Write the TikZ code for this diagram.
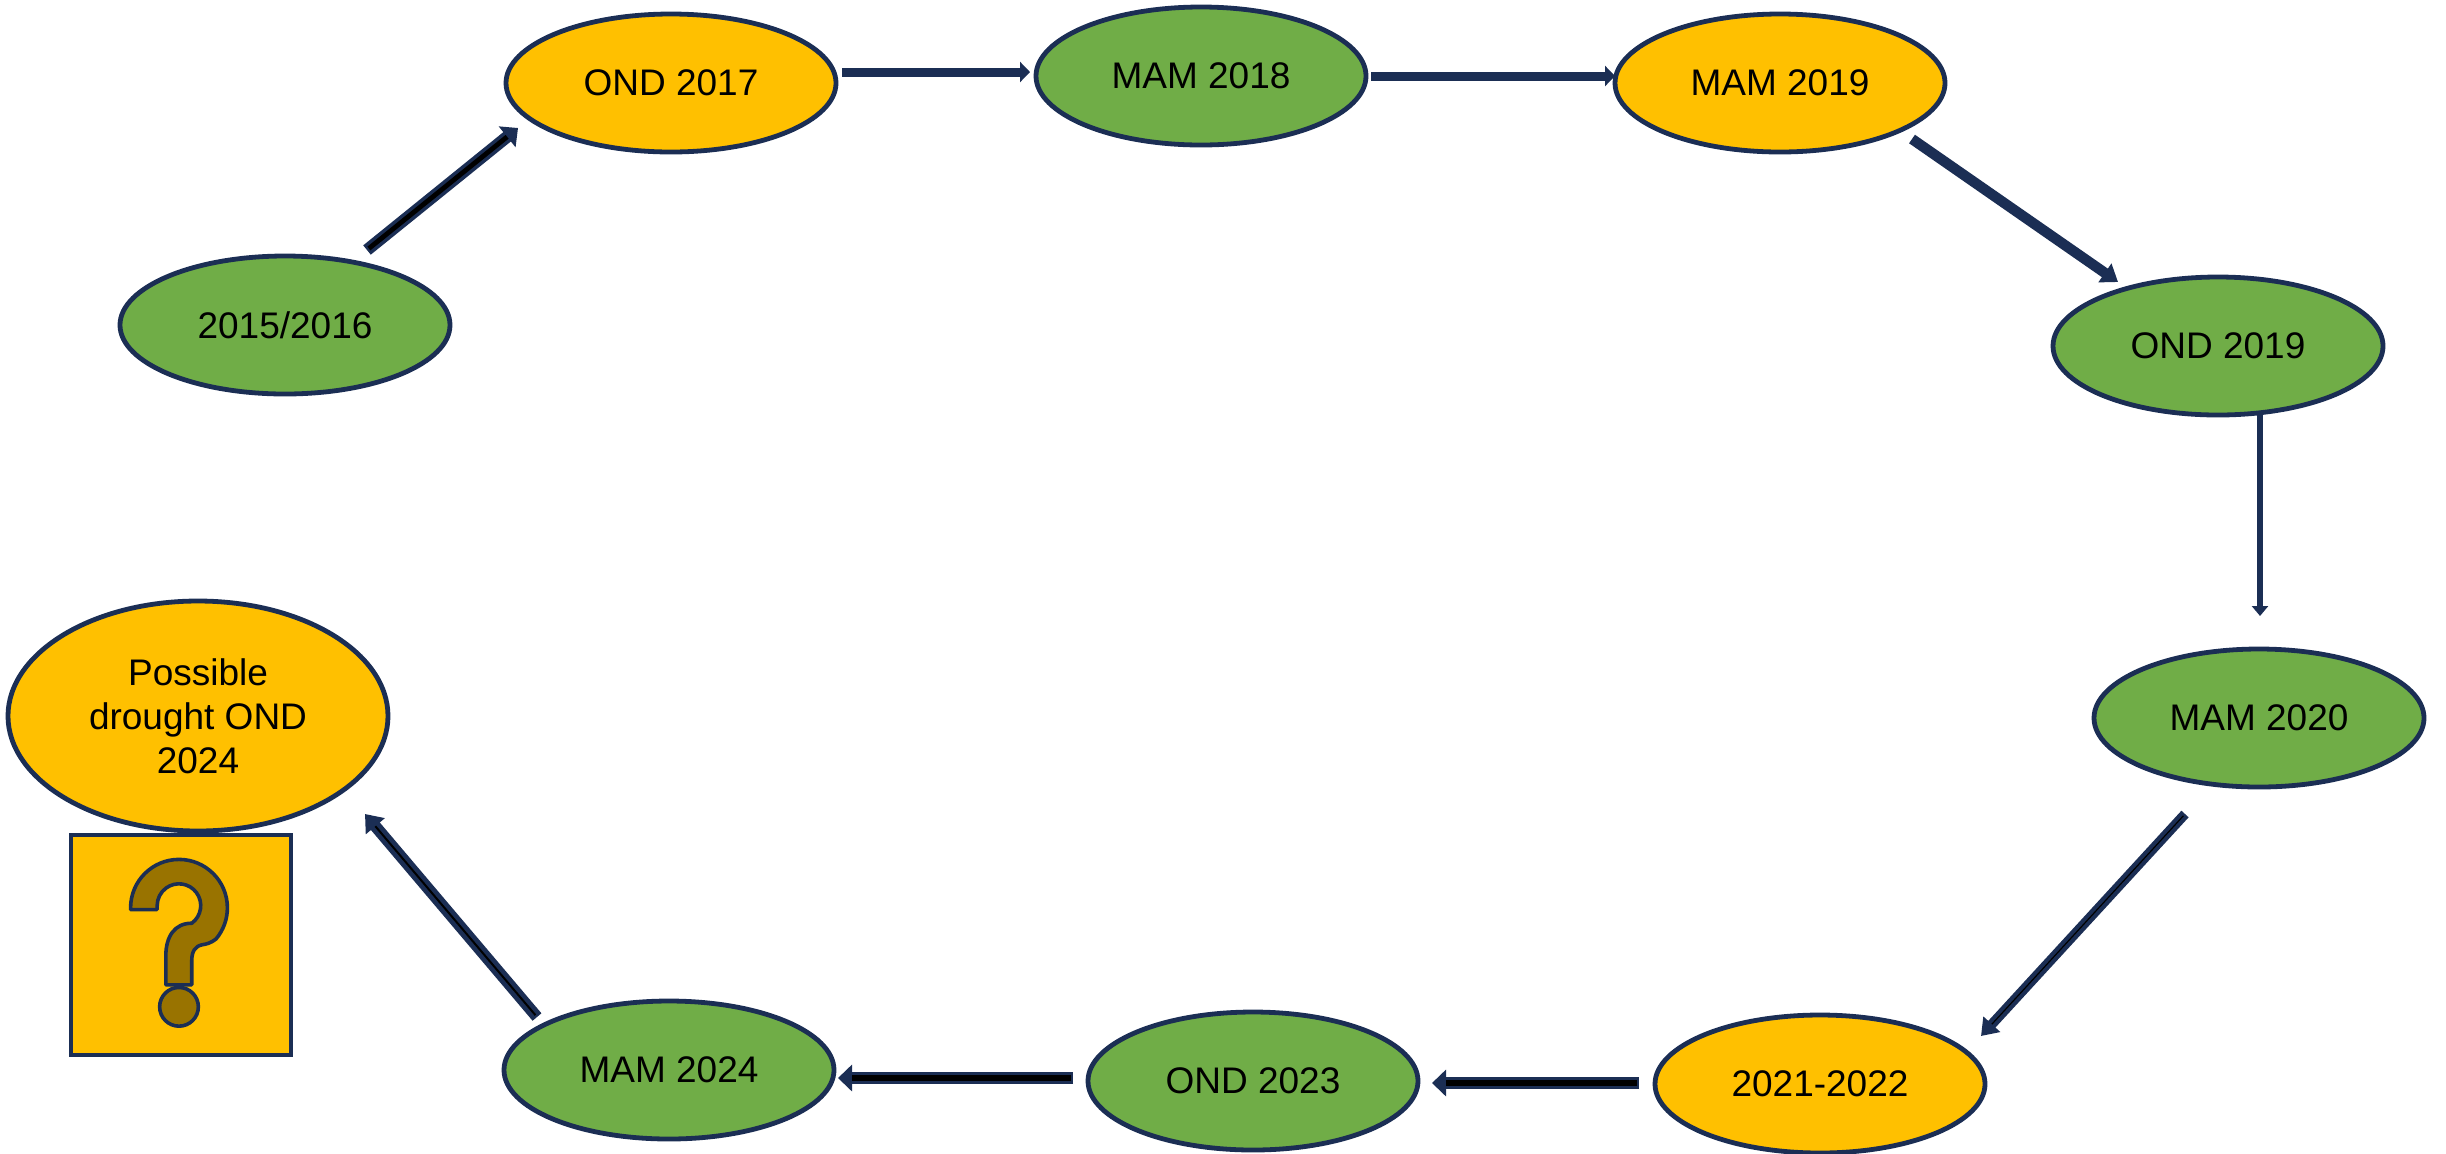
\documentclass[tikz,border=0pt]{standalone}
\usepackage{fontspec}
\setmainfont{Liberation Sans}
\usetikzlibrary{shapes.geometric,arrows.meta}
\definecolor{navy}{HTML}{1B2E54}
\definecolor{sun}{HTML}{FFC000}
\definecolor{leaf}{HTML}{70AD47}
\definecolor{qfill}{HTML}{997300}
% #1 from, #2 to, #3 shaft width, #4 inner width, #5 head length, #6 head width
\newcommand\blkarrow[6]{%
  \draw[navy,line width=#3,-{Triangle[length=#5,width=#6]}] #1 -- #2;
  \ifdim#4>0pt
    \draw[black,line width=#4,shorten <=1.2pt,shorten >=#5] #1 -- #2;
  \fi}
\begin{document}
\begin{tikzpicture}[x=0.5pt,y=-0.5pt,
  season/.style={ellipse,draw=navy,line width=2.4pt,minimum width=165pt,minimum height=69pt,
    inner sep=0pt,font=\fontsize{18.5pt}{22pt}\selectfont,text=black},
  wet/.style={season,fill=leaf},
  dry/.style={season,fill=sun},
  qmark/.style={draw=navy,line width=1.8pt,fill=qfill,line join=round}]
\useasboundingbox[fill=white] (0,0) rectangle (2446,1153);

\node[wet] (s1) at (285,325) {2015/2016};
\node[dry] (s2) at (671,83) {OND 2017};
\node[wet] (s3) at (1201,76) {MAM 2018};
\node[dry] (s4) at (1780,83) {MAM 2019};
\node[wet] (s5) at (2218,346) {OND 2019};
\node[wet] (s6) at (2259,718) {MAM 2020};
\node[dry] (s7) at (1820,1084) {2021-2022};
\node[wet] (s8) at (1253,1081) {OND 2023};
\node[wet] (s9) at (669,1070) {MAM 2024};
\node[season,fill=sun,minimum width=190pt,minimum height=115pt,align=center] (p) at (198,716)
  {Possible\\drought OND\\2024};
\node[draw=navy,line width=2pt,fill=sun,minimum width=110pt,minimum height=110pt,inner sep=0pt,
  anchor=north west] (qbox) at (69,833) {};

\begin{scope}[shift={(qbox.north west)},scale=220]
  \draw[qmark] (0.28,0.348) -- (0.28,0.34) arc[start angle=180,end angle=400,radius=0.22]
    .. controls (0.645,0.50) and (0.625,0.505) .. (0.605,0.508)
    .. controls (0.572,0.515) and (0.558,0.54) .. (0.558,0.58)
    -- (0.558,0.69) -- (0.44,0.69) -- (0.44,0.56)
    .. controls (0.44,0.47) and (0.48,0.41) .. (0.558,0.41)
    arc[start angle=54,end angle=-180,radius=0.099]
    -- (0.40,0.348) -- cycle;
  \draw[qmark] (0.50,0.79) circle[radius=0.088];
\end{scope}

\blkarrow{([shift={(82,-75)}]s1.center)}{([shift={(-153,45)}]s2.center)}{6pt}{2.4pt}{7pt}{13pt}
\blkarrow{([shift={(171,-11)}]s2.center)}{([shift={(-171,-4)}]s3.center)}{4.5pt}{0pt}{5pt}{10pt}
\blkarrow{([shift={(170,0)}]s3.center)}{([shift={(-165,-7)}]s4.center)}{4.5pt}{0pt}{5pt}{10pt}
\blkarrow{([shift={(132,56)}]s4.center)}{([shift={(-100,-64)}]s5.center)}{5.2pt}{0pt}{8pt}{11pt}
\blkarrow{([shift={(42,67)}]s5.center)}{([shift={(1,-102)}]s6.center)}{3.4pt}{0pt}{5pt}{8pt}
\blkarrow{([shift={(-74,96)}]s6.center)}{([shift={(161,-48)}]s7.center)}{4.9pt}{0.6pt}{8pt}{11pt}
\blkarrow{([shift={(-181,-1)}]s7.center)}{([shift={(179,2)}]s8.center)}{5.8pt}{3pt}{7pt}{13pt}
\blkarrow{([shift={(-180,-3)}]s8.center)}{([shift={(169,8)}]s9.center)}{5.8pt}{3pt}{7pt}{13pt}
\blkarrow{([shift={(-132,-53)}]s9.center)}{([shift={(167,98)}]p.center)}{5.8pt}{1pt}{8pt}{12pt}
\end{tikzpicture}
\end{document}
